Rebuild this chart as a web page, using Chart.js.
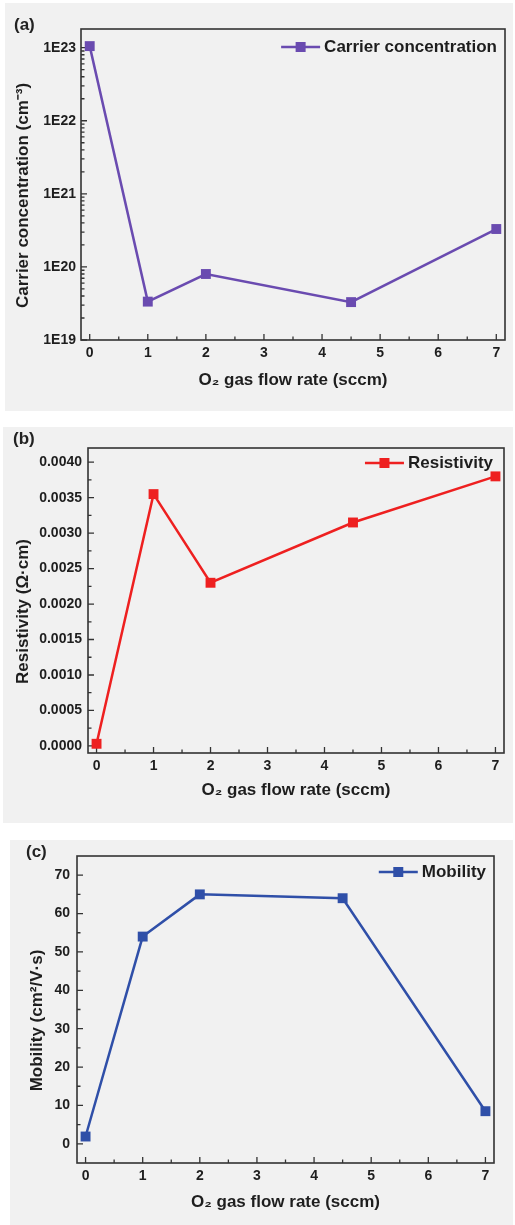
<!DOCTYPE html>
<html>
<head>
<meta charset="utf-8">
<script src="https://cdn.jsdelivr.net/npm/chart.js@4.4.0/dist/chart.umd.min.js"></script>
<style>
  body { margin: 0; background: #ffffff; width: 515px; height: 1225px; position: relative; overflow: hidden; }
  .panel { position: absolute; background: #f1f1f1; }
  canvas { position: absolute; left: 0; }
  .tag { position: absolute; font: bold 17px "Liberation Sans", Arial, sans-serif; color: #222; }
</style>
</head>
<body>
<div class="panel" style="left:5px; top:3px; width:508px; height:408px;"></div>
<div class="panel" style="left:3px; top:427px; width:510px; height:396px;"></div>
<div class="panel" style="left:10px; top:840px; width:503px; height:385px;"></div>

<canvas id="chartA" width="515" height="411" style="top:0px"></canvas>
<canvas id="chartB" width="515" height="396" style="top:427px"></canvas>
<canvas id="chartC" width="515" height="385" style="top:840px"></canvas>

<div class="tag" style="left:14px; top:15px;">(a)</div>
<div class="tag" style="left:13px; top:429px;">(b)</div>
<div class="tag" style="left:26px; top:842px;">(c)</div>

<script>
// Data
const flowRate = [0, 1, 2, 4.5, 7];
const carrierConc = [1.05e23, 3.35e19, 8.0e19, 3.3e19, 3.3e20];
const resistivity = [0.00003, 0.00355, 0.0023, 0.00315, 0.0038];
const mobility = [1.9, 54, 65, 64, 8.5];

// Tick values
const xMajorTicks = [0, 1, 2, 3, 4, 5, 6, 7];
const xMinorTicks = [0.5, 1.5, 2.5, 3.5, 4.5, 5.5, 6.5];
const concTicks = [1e19, 1e20, 1e21, 1e22, 1e23];
const resTicks = [0, 0.0005, 0.001, 0.0015, 0.002, 0.0025, 0.003, 0.0035, 0.004];
const resMinorTicks = [0.00025, 0.00075, 0.00125, 0.00175, 0.00225, 0.00275, 0.00325, 0.00375];
const mobTicks = [0, 10, 20, 30, 40, 50, 60, 70];
const mobMinorTicks = [5, 15, 25, 35, 45, 55, 65];

const FONT = "'Liberation Sans', Arial, sans-serif";
const AXIS_COLOR = '#333333';
const TEXT_COLOR = '#1e1e1e';

// log minor ticks 2..9 in every decade
const concMinorTicks = [];
concTicks.slice(0, -1).forEach(d => {
  for (let m = 2; m <= 9; m++) concMinorTicks.push(d * m);
});
concMinorTicks.push(2e23);

function points(ys) {
  return flowRate.map((x, i) => ({ x: x, y: ys[i] }));
}

// Frame, inward ticks, y title and legend
const framePlugin = {
  id: 'frame',
  beforeDatasetsDraw(chart, args, opts) {
    const { ctx, chartArea: a } = chart;
    const xs = chart.scales.x;
    const ys = chart.scales.y;
    ctx.save();
    ctx.strokeStyle = AXIS_COLOR;
    ctx.lineWidth = 1.6;
    ctx.strokeRect(a.left, a.top, a.right - a.left, a.bottom - a.top);

    ctx.lineWidth = 1.3;
    ctx.beginPath();
    xs.ticks.forEach(t => {
      const px = xs.getPixelForValue(t.value);
      ctx.moveTo(px, a.bottom);
      ctx.lineTo(px, a.bottom - 6);
    });
    xMinorTicks.forEach(v => {
      const px = xs.getPixelForValue(v);
      ctx.moveTo(px, a.bottom);
      ctx.lineTo(px, a.bottom - 3.5);
    });
    ys.ticks.forEach(t => {
      const py = ys.getPixelForValue(t.value);
      ctx.moveTo(a.left, py);
      ctx.lineTo(a.left + 6, py);
    });
    opts.yMinor.forEach(v => {
      const py = ys.getPixelForValue(v);
      if (py < a.top || py > a.bottom) return;
      ctx.moveTo(a.left, py);
      ctx.lineTo(a.left + 3.5, py);
    });
    ctx.stroke();
    ctx.restore();
  },
  afterDraw(chart, args, opts) {
    const { ctx, chartArea: a } = chart;
    const ds = chart.data.datasets[0];
    ctx.save();
    ctx.font = 'bold 17px ' + FONT;
    ctx.fillStyle = TEXT_COLOR;

    // y axis title, a bit below the middle of the frame like the original
    ctx.save();
    ctx.translate(opts.yTitleX, (a.top + a.bottom) / 2 + opts.yTitleShift);
    ctx.rotate(-Math.PI / 2);
    ctx.textAlign = 'center';
    ctx.textBaseline = 'middle';
    ctx.fillText(opts.yTitle, 0, 0);
    ctx.restore();

    // legend: line + square + label
    ctx.textBaseline = 'middle';
    ctx.textAlign = 'right';
    const tx = a.right - opts.dx;
    const ty = a.top + opts.dy;
    const w = ctx.measureText(ds.label).width;
    ctx.fillText(ds.label, tx, ty);
    const lineEnd = tx - w - 4;
    const lineStart = lineEnd - 39;
    ctx.strokeStyle = ds.borderColor;
    ctx.lineWidth = 2.5;
    ctx.beginPath();
    ctx.moveTo(lineStart, ty);
    ctx.lineTo(lineEnd, ty);
    ctx.stroke();
    ctx.fillStyle = ds.backgroundColor;
    const mx = (lineStart + lineEnd) / 2;
    ctx.fillRect(mx - 5, ty - 5, 10, 10);
    ctx.restore();
  }
};

function makeChart(id, cfg) {
  const canvas = document.getElementById(id);
  const H = canvas.height;
  return new Chart(canvas.getContext('2d'), {
    type: 'line',
    data: {
      datasets: [{
        label: cfg.label,
        data: points(cfg.values),
        borderColor: cfg.color,
        backgroundColor: cfg.color,
        borderWidth: 2.5,
        pointStyle: 'rect',
        pointRadius: 7,
        pointBorderWidth: 0,
        tension: 0,
        clip: false
      }]
    },
    options: {
      responsive: false,
      animation: false,
      layout: { padding: { top: cfg.area.top, right: 515 - cfg.area.right, left: 0, bottom: 0 } },
      plugins: {
        legend: { display: false },
        tooltip: { enabled: false },
        frame: {
          yMinor: cfg.yMinor,
          yTitle: cfg.yTitle,
          yTitleX: cfg.yTitleX,
          yTitleShift: 11,
          dx: cfg.legend.dx,
          dy: cfg.legend.dy
        }
      },
      scales: {
        x: {
          type: 'linear',
          bounds: 'data',
          min: -0.15,
          max: 7.15,
          grid: { display: false, drawTicks: false },
          border: { display: false },
          afterBuildTicks: s => { s.ticks = xMajorTicks.map(v => ({ value: v })); },
          afterFit: s => { s.height = H - cfg.area.bottom; },
          ticks: {
            padding: cfg.xTickPad,
            color: TEXT_COLOR,
            maxRotation: 0,
            font: { size: 14, weight: 'bold', family: FONT },
            callback: v => String(v)
          },
          title: {
            display: true,
            text: 'O\u2082 gas flow rate (sccm)',
            color: TEXT_COLOR,
            font: { size: 17, weight: 'bold', family: FONT },
            padding: { top: 0, bottom: cfg.xTitlePad }
          }
        },
        y: {
          type: cfg.yType,
          bounds: 'data',
          min: cfg.yMin,
          max: cfg.yMax,
          grid: { display: false, drawTicks: false },
          border: { display: false },
          afterBuildTicks: s => { s.ticks = cfg.yTicks.map(v => ({ value: v })); },
          afterFit: s => { s.width = cfg.area.left; },
          ticks: {
            padding: cfg.yTickPad,
            color: TEXT_COLOR,
            font: { size: 14, weight: 'bold', family: FONT },
            callback: cfg.yFormat
          },
          title: { display: false }
        }
      }
    },
    plugins: [framePlugin]
  });
}

makeChart('chartA', {
  label: 'Carrier concentration',
  values: carrierConc,
  color: '#6a4bb0',
  area: { left: 81, right: 505, top: 29, bottom: 340 },
  yType: 'logarithmic',
  yMin: 1e19,
  yMax: 1.8e23,
  yTicks: concTicks,
  yMinor: concMinorTicks,
  yFormat: v => '1E' + Math.round(Math.log10(v)),
  yTitle: 'Carrier concentration (cm\u207B\u00B3)',
  yTitleX: 23,
  yTickPad: 5,
  xTickPad: 5,
  xTitlePad: 20,
  legend: { dx: 8, dy: 18 }
});

makeChart('chartB', {
  label: 'Resistivity',
  values: resistivity,
  color: '#ee2020',
  area: { left: 88, right: 504, top: 21, bottom: 326 },
  yType: 'linear',
  yMin: -0.0001,
  yMax: 0.0042,
  yTicks: resTicks,
  yMinor: resMinorTicks,
  yFormat: v => v.toFixed(4),
  yTitle: 'Resistivity (\u03A9\u00B7cm)',
  yTitleX: 23,
  yTickPad: 6,
  xTickPad: 5,
  xTitlePad: 22,
  legend: { dx: 11, dy: 15 }
});

makeChart('chartC', {
  label: 'Mobility',
  values: mobility,
  color: '#2f4fa8',
  area: { left: 77, right: 494, top: 16, bottom: 323 },
  yType: 'linear',
  yMin: -5,
  yMax: 75,
  yTicks: mobTicks,
  yMinor: mobMinorTicks,
  yFormat: v => String(v),
  yTitle: 'Mobility (cm\u00B2/V\u00B7s)',
  yTitleX: 37,
  yTickPad: 7,
  xTickPad: 5,
  xTitlePad: 12,
  legend: { dx: 8, dy: 16 }
});
</script>
</body>
</html>
